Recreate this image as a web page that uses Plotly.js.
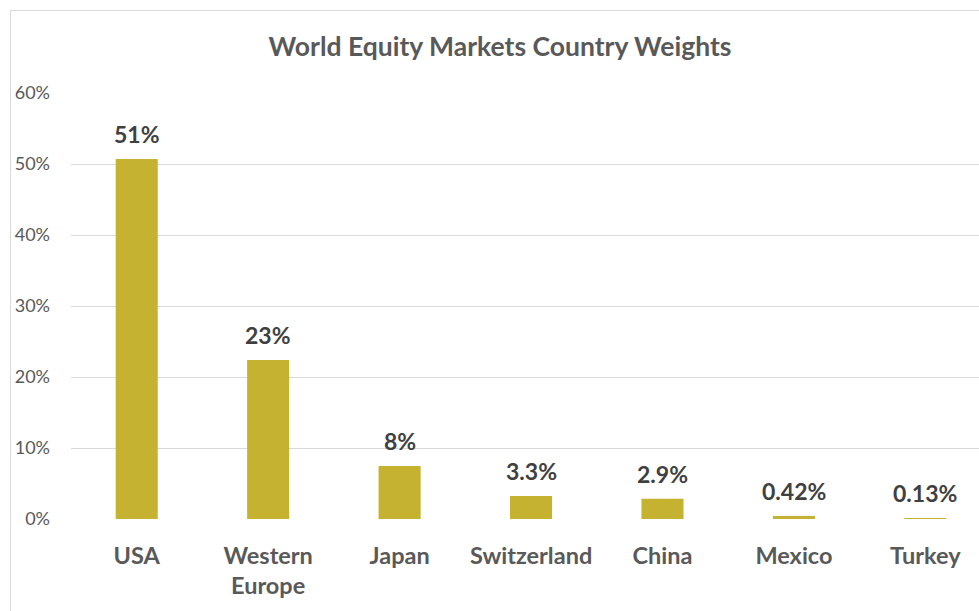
<!DOCTYPE html>
<html>
<head>
<meta charset="utf-8">
<script src="https://cdn.plot.ly/plotly-3.0.1.min.js"></script>
<style>
html,body{margin:0;padding:0;background:#fff;overflow:hidden;}
#frame{position:absolute;left:10px;top:10px;width:1200px;height:900px;border:1px solid #d9d9d9;box-sizing:border-box;}
#chart{position:absolute;left:0;top:0;width:979px;height:611px;}
</style>
</head>
<body>
<div id="frame"></div>
<div id="chart"></div>
<script>
const categories = ["USA", "Western<br>Europe", "Japan", "Switzerland", "China", "Mexico", "Turkey"];
const weights = [0.507, 0.224, 0.0746, 0.0325, 0.0285, 0.0042, 0.0013];
const valueLabels = ["51%", "23%", "8%", "3.3%", "2.9%", "0.42%", "0.13%"];
const yTickVals = [0, 0.1, 0.2, 0.3, 0.4, 0.5, 0.6];
const yTickText = ["0%", "10%", "20%", "30%", "40%", "50%", "60%"];

const FONT = "Lato, 'Open Sans', sans-serif";

const trace = {
  type: "bar",
  x: categories,
  y: weights,
  width: 0.32,
  marker: {color: "#C5B230"},
  hoverinfo: "skip"
};

const annotations = categories.map((c, i) => ({
  x: c, y: weights[i], xref: "x", yref: "y",
  text: "<b>" + valueLabels[i] + "</b>",
  showarrow: false, yanchor: "bottom", yshift: 9,
  font: {family: FONT, size: 23, color: "#404040"}
}));

const layout = {
  width: 979, height: 611,
  paper_bgcolor: "rgba(0,0,0,0)",
  plot_bgcolor: "rgba(0,0,0,0)",
  margin: {l: 71, r: 0, t: 93, b: 92},
  showlegend: false,
  title: {
    text: "<b>World Equity Markets Country Weights</b>",
    font: {family: FONT, size: 26.5, color: "#595959"},
    x: 0.4725, xref: "paper", xanchor: "center",
    y: 48, yref: "container", yanchor: "middle"
  },
  xaxis: {
    type: "category",
    range: [-0.5, 6.408],
    showgrid: false, zeroline: false, showline: false,
    ticks: "",
    tickfont: {family: FONT, size: 23.5, color: "#595959", weight: "bold"},
    ticklabelstandoff: 20,
    fixedrange: true
  },
  yaxis: {
    range: [0, 0.6],
    tickvals: yTickVals,
    ticktext: yTickText,
    showgrid: true, gridcolor: "#d9d9d9", gridwidth: 1,
    zeroline: false, showline: false, ticks: "",
    tickfont: {family: FONT, size: 18, color: "#595959"},
    ticklabelstandoff: 20,
    fixedrange: true
  },
  annotations: annotations
};

Plotly.newPlot("chart", [trace], layout, {displayModeBar: false, staticPlot: true});
</script>
</body>
</html>
